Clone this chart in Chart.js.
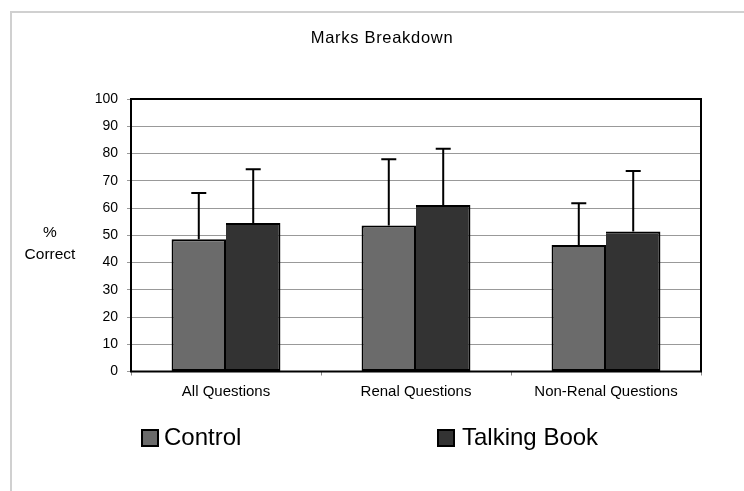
<!DOCTYPE html>
<html>
<head>
<meta charset="utf-8">
<script src="https://cdn.jsdelivr.net/npm/chart.js@4"></script>
<style>
  html, body { margin: 0; padding: 0; background: #ffffff; }
  #wrap { width: 744px; height: 491px; position: relative; }
</style>
</head>
<body>
<div id="wrap"><canvas id="c" width="744" height="491"></canvas></div>
<script>
const categories = ["All Questions", "Renal Questions", "Non-Renal Questions"];
const seriesNames = ["Control", "Talking Book"];
const controlMeans = [48.5, 53.6, 46.4];
const controlErr = [17.0, 24.3, 15.3];
const talkingMeans = [54.5, 61.1, 51.4];
const talkingErr = [19.7, 20.6, 22.2];
const yTicks = [0, 10, 20, 30, 40, 50, 60, 70, 80, 90, 100];
const titleText = "Marks Breakdown";
const yLabelLines = ["%", "Correct"];

const FONT = '"Liberation Sans", Arial, Helvetica, sans-serif';
const colors = ["#6b6b6b", "#333333"];
const errors = [controlErr, talkingErr];

const decorPlugin = {
  id: 'decor',
  beforeDraw(chart) {
    const ctx = chart.ctx;
    ctx.save();
    ctx.fillStyle = '#ffffff';
    ctx.fillRect(0, 0, chart.width, chart.height);
    ctx.strokeStyle = '#d0d0d0';
    ctx.lineWidth = 2;
    ctx.beginPath();
    ctx.moveTo(11, chart.height + 2);
    ctx.lineTo(11, 12);
    ctx.lineTo(chart.width + 2, 12);
    ctx.stroke();
    ctx.restore();
  },
  afterDatasetsDraw(chart) {
    const ctx = chart.ctx;
    const y = chart.scales.y;
    const a = chart.chartArea;
    ctx.save();
    ctx.strokeStyle = '#000000';
    ctx.lineWidth = 2;
    chart.data.datasets.forEach((ds, di) => {
      const meta = chart.getDatasetMeta(di);
      meta.data.forEach((bar, i) => {
        const top = y.getPixelForValue(ds.data[i] + errors[di][i]);
        const base = y.getPixelForValue(ds.data[i]);
        ctx.beginPath();
        ctx.moveTo(bar.x, base);
        ctx.lineTo(bar.x, top);
        ctx.moveTo(bar.x - 7.5, top);
        ctx.lineTo(bar.x + 7.5, top);
        ctx.stroke();
      });
    });
    ctx.strokeRect(a.left, a.top, a.right - a.left, a.bottom - a.top);
    ctx.restore();
  },
  afterDraw(chart) {
    const ctx = chart.ctx;
    ctx.save();
    ctx.fillStyle = '#000000';
    ctx.font = '16.5px ' + FONT;
    ctx.textAlign = 'center';
    ctx.textBaseline = 'alphabetic';
    try { ctx.letterSpacing = '0.7px'; } catch (e) {}
    ctx.fillText(titleText, 382, 42.5);
    try { ctx.letterSpacing = '0px'; } catch (e) {}
    ctx.font = '15.5px ' + FONT;
    ctx.fillText(yLabelLines[0], 50, 237);
    ctx.fillText(yLabelLines[1], 50, 258.5);
    const items = [{x: 142, tx: 164}, {x: 438, tx: 462}];
    ctx.font = '24px ' + FONT;
    ctx.textAlign = 'left';
    chart.data.datasets.forEach((ds, i) => {
      const it = items[i];
      ctx.fillStyle = ds.backgroundColor;
      ctx.fillRect(it.x, 430, 16, 16);
      ctx.strokeStyle = '#000000';
      ctx.lineWidth = 2;
      ctx.strokeRect(it.x, 430, 16, 16);
      ctx.fillStyle = '#000000';
      ctx.fillText(ds.label, it.tx, 444.5);
    });
    ctx.restore();
  }
};

new Chart(document.getElementById('c'), {
  type: 'bar',
  data: {
    labels: categories,
    datasets: [
      { label: seriesNames[0], data: controlMeans, backgroundColor: colors[0], borderColor: '#000000',
        borderWidth: { top: 2, left: 2, right: 2, bottom: 2 }, borderSkipped: false },
      { label: seriesNames[1], data: talkingMeans, backgroundColor: colors[1], borderColor: '#000000',
        borderWidth: { top: 2, left: 0, right: 2, bottom: 2 }, borderSkipped: false }
    ]
  },
  options: {
    responsive: false,
    animation: false,
    devicePixelRatio: 1,
    categoryPercentage: 0.573,
    barPercentage: 1.0,
    layout: { padding: { left: 91, right: 43, top: 99, bottom: 79.5 } },
    plugins: {
      legend: { display: false },
      title: { display: false },
      tooltip: { enabled: false }
    },
    scales: {
      x: {
        afterFit(s) { s.height = 40; },
        grid: { display: true, drawOnChartArea: false, drawTicks: true, tickLength: 4, color: '#888888', offset: true },
        border: { display: false },
        ticks: { color: '#000000', font: { family: FONT, size: 15 }, padding: 7, maxRotation: 0 }
      },
      y: {
        min: 0, max: 100,
        afterFit(s) { s.width = 40; },
        afterBuildTicks(s) { s.ticks = yTicks.map(v => ({ value: v })); },
        grid: { color: '#999999', lineWidth: 1, tickLength: 4, drawTicks: true },
        border: { display: false },
        ticks: { color: '#000000', font: { family: FONT, size: 14 }, padding: 9 }
      }
    }
  },
  plugins: [decorPlugin]
});
</script>
</body>
</html>
